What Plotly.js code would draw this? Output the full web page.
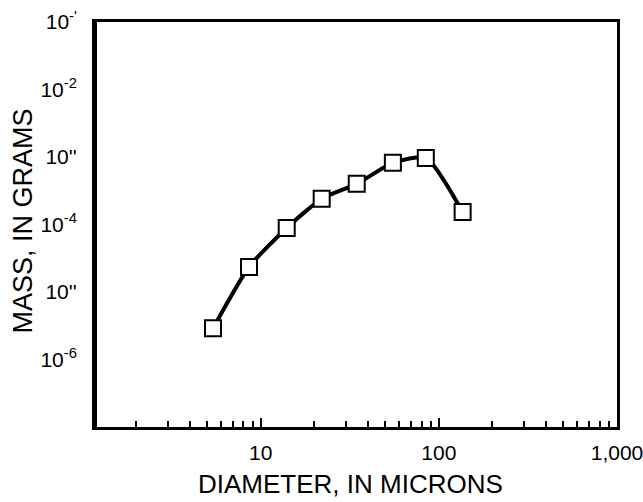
<!DOCTYPE html>
<html>
<head>
<meta charset="utf-8">
<script src="https://cdn.plot.ly/plotly-3.0.1.min.js"></script>
<style>html,body{margin:0;padding:0;background:#fff;}#chart{width:643px;height:502px;}</style>
</head>
<body>
<div id="chart"></div>
<script>
// Data
var diameterMicrons = [5.4, 8.6, 14.0, 22.0, 34.6, 55.2, 84.5, 136];
var massGrams = [2.9e-6, 2.35e-5, 8.9e-5, 2.4e-4, 4.0e-4, 8.2e-4, 9.7e-4, 1.53e-4];

var xTickVals = [10, 100, 1000];
var xTickText = ['10', '100', '1,000'];
var xMinorVals = [2,3,4,5,6,7,8,9,20,30,40,50,60,70,80,90,200,300,400,500,600,700,800,900];

var yTickVals = [1e-1, 1e-2, 1e-3, 1e-4, 1e-5, 1e-6];
var yTickText = ["10<sup>-'</sup>", "10<sup>-2</sup>", "10''", "10<sup>-4</sup>", "10''", "10<sup>-6</sup>"];

var xTitle = 'DIAMETER, IN MICRONS';
var yTitle = 'MASS, IN GRAMS';

var trace = {
  x: diameterMicrons,
  y: massGrams,
  type: 'scatter',
  mode: 'lines+markers',
  line: {color: '#000', width: 4, shape: 'spline', smoothing: 0.6},
  marker: {symbol: 'square', size: 16, color: '#fff', line: {color: '#000', width: 2}},
  hoverinfo: 'skip'
};

var layout = {
  width: 643, height: 502,
  margin: {l: 95, r: 26, t: 22, b: 75, pad: 0},
  paper_bgcolor: '#fff', plot_bgcolor: '#fff',
  showlegend: false,
  font: {family: 'Liberation Sans, Arial, sans-serif', color: '#000', size: 20},
  xaxis: {
    type: 'log',
    range: [0.07, 3],
    tickmode: 'array', tickvals: xTickVals, ticktext: xTickText,
    ticks: 'inside', ticklen: 9, tickwidth: 2, tickcolor: '#000',
    minor: {tickmode: 'array', tickvals: xMinorVals, ticks: 'inside', ticklen: 6, tickwidth: 2, tickcolor: '#000', showgrid: false},
    showgrid: false, zeroline: false,
    showline: true, linewidth: 3, linecolor: '#000', mirror: true,
    tickfont: {size: 21},
    ticklabelstandoff: 5,
    ticklabeloverflow: 'allow'
  },
  yaxis: {
    type: 'log',
    range: [-7, -1],
    tickmode: 'array', tickvals: yTickVals, ticktext: yTickText,
    ticks: '', showgrid: false, zeroline: false,
    showline: true, linewidth: 3, linecolor: '#000', mirror: true,
    tickfont: {size: 21},
    ticklabelstandoff: 11
  },
  shapes: [
    {type: 'line', xref: 'paper', yref: 'paper', x0: 0, x1: 0, y0: 0, y1: 1, line: {color: '#000', width: 4}}
  ],
  annotations: [
    {text: yTitle, xref: 'paper', yref: 'paper', x: -0.138, y: 0.51,
     xanchor: 'center', yanchor: 'middle', textangle: -90, showarrow: false,
     font: {size: 27, color: '#000'}},
    {text: xTitle, xref: 'paper', yref: 'paper', x: 0.49, y: -0.14,
     xanchor: 'center', yanchor: 'middle', showarrow: false,
     font: {size: 26, color: '#000'}}
  ]
};

Plotly.newPlot('chart', [trace], layout, {staticPlot: true, displayModeBar: false});
</script>
</body>
</html>
